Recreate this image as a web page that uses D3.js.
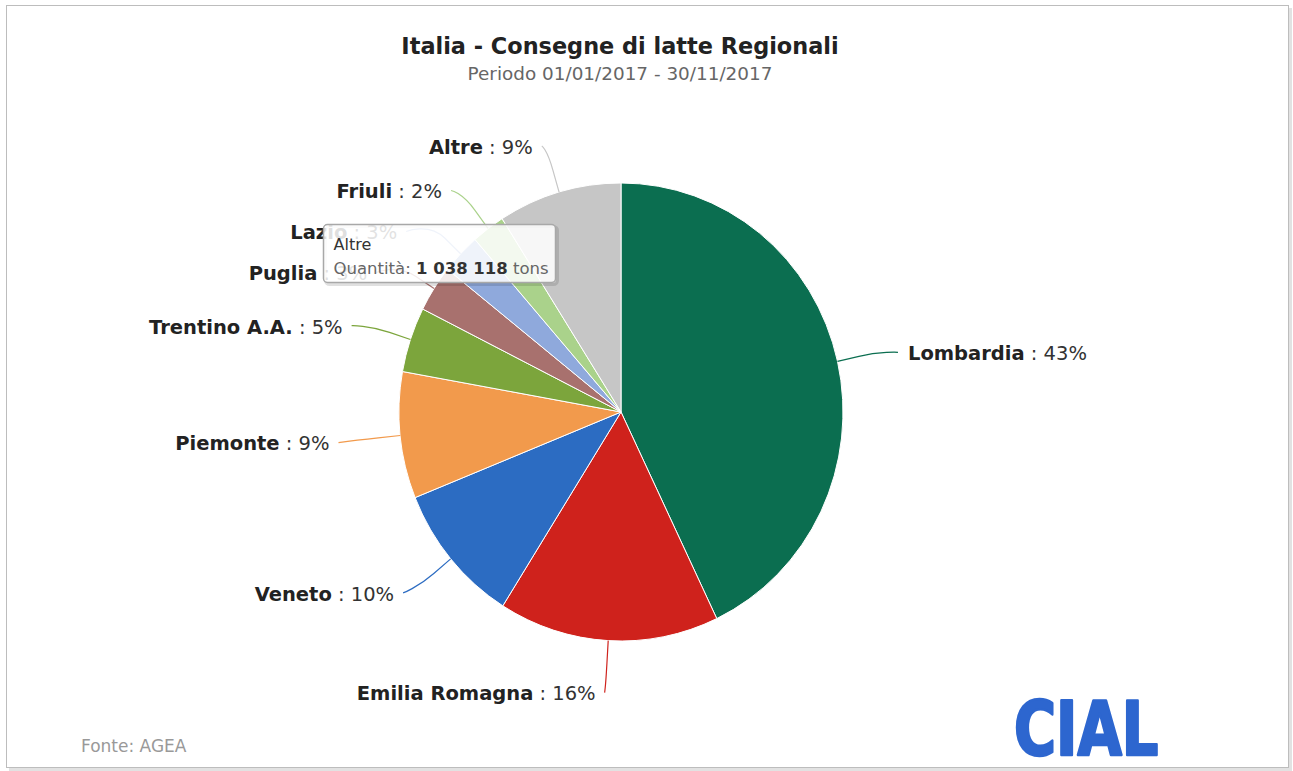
<!DOCTYPE html>
<html>
<head>
<meta charset="utf-8">
<script src="https://cdn.jsdelivr.net/npm/d3@7"></script>
<style>
  body { margin: 0; background: #fff; }
  svg { display: block; font-family: "DejaVu Sans", Verdana, sans-serif; }
</style>
</head>
<body>
<div id="wrapper"></div>
<script>
const chartTitle = "Italia - Consegne di latte Regionali";
const chartSubtitle = "Periodo 01/01/2017 - 30/11/2017";
const regions = ["Lombardia", "Emilia Romagna", "Veneto", "Piemonte", "Trentino A.A.", "Puglia", "Lazio", "Friuli", "Altre"];
const tons = [4950000, 1850000, 1150000, 1030000, 530000, 380000, 330000, 280000, 1038118];
const sliceColors = ["#0b6e50", "#cf221c", "#2c6cc2", "#f29a4c", "#7ca53c", "#a8716e", "#8fa9dc", "#aad28b", "#c6c6c6"];
const hovered = "Altre";

function drawPieChart() {
  const width = 1293;
  const height = 771;
  const cx = 621, cy = 412;
  const r = 222;
  const sy = 229 / 222;     // the reference is a little taller than wide
  const labelDistX = 62, labelDistY = 50, breakDist = 22;

  const svg = d3.select("#wrapper").append("svg")
    .attr("width", width)
    .attr("height", height);

  // frame with soft shadow
  svg.append("rect").attr("x", 9).attr("y", 8).attr("width", 1283).attr("height", 763).attr("fill", "#e2e2e2");
  svg.append("rect").attr("x", 6.5).attr("y", 5.5).attr("width", 1282).attr("height", 762)
    .attr("fill", "#fff").attr("stroke", "#bdbdbd");

  svg.append("text").attr("x", cx - 1).attr("y", 54).attr("text-anchor", "middle")
    .attr("font-size", 22.4).attr("font-weight", "bold").attr("fill", "#222")
    .text(chartTitle);
  svg.append("text").attr("x", cx - 1).attr("y", 80).attr("text-anchor", "middle")
    .attr("font-size", 18.4).attr("fill", "#666")
    .text(chartSubtitle);

  const total = d3.sum(tons);
  const data = regions.map((name, i) => ({ name, value: tons[i], color: sliceColors[i] }));

  const pie = d3.pie().sort(null).value(d => d.value);
  const arcs = pie(data);
  const arc = d3.arc().innerRadius(0).outerRadius(r);

  const pieG = svg.append("g").attr("transform", `translate(${cx},${cy}) scale(1,${sy})`);
  pieG.selectAll("path")
    .data(arcs)
    .join("path")
    .attr("d", arc)
    .attr("fill", d => d.data.color)
    .attr("stroke", "#fff")
    .attr("stroke-width", 1)
    .attr("vector-effect", "non-scaling-stroke");

  const pt = (a, rad) => [cx + rad * Math.sin(a), cy - rad * Math.cos(a) * sy];

  // label layout: natural position, then push overlapping labels down per side
  arcs.forEach(d => {
    d.mid = (d.startAngle + d.endAngle) / 2;
    d.side = Math.sin(d.mid) < 0 ? -1 : 1;
    d.ly = cy - Math.cos(d.mid) * (r * sy + labelDistY);
  });
  [-1, 1].forEach(side => {
    const group = arcs.filter(d => d.side === side).sort((a, b) => a.ly - b.ly);
    for (let i = 1; i < group.length; i++) {
      group[i].ly = Math.max(group[i].ly, group[i - 1].ly + 41);
    }
  });
  const Rx = r + labelDistX, Ry = r * sy + labelDistY;
  arcs.forEach(d => {
    const t = Math.min(1, Math.abs(d.ly - cy) / Ry);
    d.lx = cx + d.side * Rx * Math.sqrt(1 - t * t);
    d.ly += 2;
  });

  const labels = svg.append("g");
  arcs.forEach(d => {
    const touch = pt(d.mid, r);
    const brk = pt(d.mid, r + breakDist);
    const ctrl = [2 * brk[0] - touch[0], 2 * brk[1] - touch[1]];
    labels.append("path")
      .attr("d", `M${d.lx},${d.ly}C${d.lx},${d.ly} ${ctrl[0]},${ctrl[1]} ${brk[0]},${brk[1]}L${touch[0]},${touch[1]}`)
      .attr("fill", "none")
      .attr("stroke", d.data.color)
      .attr("stroke-width", 1.2);

    const txt = labels.append("text")
      .attr("x", d.lx + (d.side < 0 ? -9 : 10))
      .attr("y", d.ly + 1)
      .attr("dy", "0.35em")
      .attr("text-anchor", d.side < 0 ? "end" : "start")
      .attr("font-size", 19.5)
      .attr("fill", "#222");
    txt.append("tspan").attr("font-weight", "bold").text(d.data.name);
    txt.append("tspan").attr("fill", "#333").text(" : " + Math.round(d.data.value / total * 100) + "%");
  });

  // tooltip for the hovered slice
  const hov = data.find(d => d.name === hovered);
  const tip = svg.append("g").attr("transform", "translate(323.5,224.5)");
  tip.append("rect").attr("x", 2).attr("y", 2).attr("width", 232).attr("height", 58).attr("rx", 4)
    .attr("fill", "none").attr("stroke", "#000").attr("stroke-opacity", 0.12).attr("stroke-width", 3);
  tip.append("rect").attr("width", 232).attr("height", 58).attr("rx", 4)
    .attr("fill", "#fff").attr("fill-opacity", 0.86)
    .attr("stroke", "#a8a8a8").attr("stroke-width", 1.5);
  tip.append("text").attr("x", 10).attr("y", 25).attr("font-size", 16).attr("fill", "#333")
    .text(hov.name);
  const line2 = tip.append("text").attr("x", 10).attr("y", 49).attr("font-size", 16.5).attr("fill", "#666");
  line2.append("tspan").text("Quantità:  ");
  line2.append("tspan").attr("font-weight", "bold").attr("fill", "#333")
    .text(d3.format(",")(hov.value).replace(/,/g, " "));
  line2.append("tspan").text(" tons");

  svg.append("text").attr("x", 81).attr("y", 752).attr("font-size", 17).attr("fill", "#999")
    .text("Fonte: AGEA");

  svg.append("text")
    .attr("transform", "translate(1014,755) scale(0.85,1)")
    .attr("font-family", "'DejaVu Sans Condensed', 'DejaVu Sans', sans-serif")
    .attr("font-size", 75).attr("font-weight", "bold").attr("fill", "#2d66cf")
    .attr("stroke", "#2d66cf").attr("stroke-width", 2.5).attr("stroke-linejoin", "round")
    .text("CIAL");
}

drawPieChart();
</script>
</body>
</html>
